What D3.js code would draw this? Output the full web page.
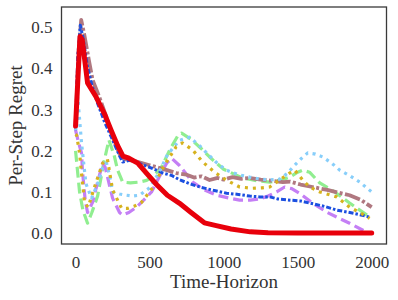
<!DOCTYPE html>
<html><head><meta charset="utf-8">
<script src="https://cdn.jsdelivr.net/npm/d3@7"></script>
<style>body{margin:0;background:#fff}svg{display:block}</style>
</head><body><svg id="c" width="398" height="300"></svg>
<script>
const xTicks = [0, 500, 1000, 1500, 2000];
const yTicks = [0.0, 0.1, 0.2, 0.3, 0.4, 0.5];

const greenT = [0, 27, 50, 81, 110, 149, 190, 225, 260, 284, 318, 370, 432, 480, 520, 580, 640, 690, 716, 780, 850, 905, 1000, 1128, 1230, 1311, 1400, 1446, 1500, 1534, 1580, 1649, 1750, 1851, 1986];
const greenV = [0.20, 0.10, 0.055, 0.024, 0.05, 0.09, 0.17, 0.226, 0.19, 0.153, 0.124, 0.122, 0.124, 0.128, 0.136, 0.16, 0.205, 0.236, 0.243, 0.228, 0.205, 0.185, 0.155, 0.134, 0.127, 0.124, 0.13, 0.136, 0.148, 0.153, 0.148, 0.122, 0.10, 0.073, 0.039];

const purpleT = [0, 20, 40, 47, 65, 81, 115, 150, 183, 200, 230, 250, 297, 318, 360, 412, 460, 513, 570, 615, 649, 700, 791, 870, 953, 1040, 1108, 1180, 1243, 1300, 1358, 1412, 1460, 1520, 1600, 1700, 1780, 1851, 1966];
const purpleV = [0.25, 0.22, 0.195, 0.15, 0.08, 0.05, 0.075, 0.125, 0.17, 0.16, 0.115, 0.085, 0.05, 0.044, 0.05, 0.063, 0.08, 0.10, 0.14, 0.17, 0.182, 0.165, 0.124, 0.105, 0.092, 0.085, 0.08, 0.08, 0.083, 0.09, 0.10, 0.112, 0.108, 0.095, 0.073, 0.05, 0.036, 0.024, 0.002];

const mauveT = [0, 20, 38, 60, 90, 115, 145, 175, 210, 240, 270, 300, 330, 400, 500, 600, 680, 750, 800, 850, 905, 960, 1000, 1060, 1120, 1176, 1250, 1331, 1400, 1450, 1520, 1600, 1700, 1780, 1851, 1930, 2000];
const mauveV = [0.26, 0.44, 0.518, 0.48, 0.42, 0.372, 0.345, 0.316, 0.28, 0.245, 0.215, 0.19, 0.18, 0.175, 0.165, 0.155, 0.146, 0.142, 0.135, 0.138, 0.129, 0.134, 0.13, 0.136, 0.132, 0.134, 0.13, 0.127, 0.124, 0.125, 0.118, 0.112, 0.105, 0.098, 0.092, 0.08, 0.063];

const blueT = [0, 15, 32, 50, 80, 110, 149, 196, 243, 297, 318, 378, 440, 500, 590, 650, 700, 770, 840, 930, 1020, 1100, 1176, 1243, 1311, 1365, 1450, 1520, 1581, 1680, 1764, 1880, 1986];
const blueV = [0.25, 0.43, 0.505, 0.475, 0.405, 0.36, 0.315, 0.27, 0.232, 0.188, 0.173, 0.178, 0.168, 0.16, 0.146, 0.14, 0.13, 0.12, 0.112, 0.104, 0.097, 0.094, 0.09, 0.088, 0.088, 0.083, 0.08, 0.078, 0.073, 0.065, 0.056, 0.048, 0.039];

const lightBlueT = [0, 15, 40, 70, 108, 150, 183, 209, 230, 250, 297, 344, 385, 432, 500, 560, 620, 700, 770, 830, 885, 950, 1018, 1100, 1176, 1250, 1311, 1378, 1430, 1480, 1527, 1568, 1620, 1669, 1730, 1784, 1850, 1919, 2000];
const lightBlueV = [0.25, 0.33, 0.22, 0.12, 0.085, 0.12, 0.158, 0.17, 0.14, 0.10, 0.095, 0.092, 0.09, 0.092, 0.11, 0.145, 0.19, 0.225, 0.233, 0.215, 0.195, 0.172, 0.153, 0.142, 0.136, 0.131, 0.129, 0.131, 0.145, 0.165, 0.182, 0.195, 0.192, 0.185, 0.17, 0.153, 0.14, 0.124, 0.10];

const goldT = [0, 7, 27, 40, 61, 85, 128, 183, 215, 250, 311, 351, 400, 446, 520, 600, 680, 723, 791, 858, 939, 1018, 1108, 1196, 1260, 1311, 1378, 1446, 1480, 1534, 1581, 1650, 1764, 1851, 1920, 1986];
const goldV = [0.24, 0.238, 0.195, 0.146, 0.073, 0.063, 0.112, 0.17, 0.18, 0.105, 0.06, 0.06, 0.066, 0.075, 0.11, 0.165, 0.21, 0.219, 0.202, 0.173, 0.148, 0.129, 0.112, 0.109, 0.11, 0.112, 0.129, 0.146, 0.153, 0.129, 0.112, 0.10, 0.088, 0.063, 0.05, 0.036];

const redT = [0, 30, 45, 81, 140, 195, 240, 285, 320, 360, 420, 480, 550, 620, 700, 780, 870, 950, 1050, 1180, 1300, 1500, 2000];
const redV = [0.26, 0.478, 0.47, 0.365, 0.33, 0.29, 0.25, 0.212, 0.187, 0.182, 0.17, 0.145, 0.117, 0.092, 0.073, 0.05, 0.025, 0.018, 0.01, 0.003, 0.001, 0.0, 0.0];

const series = [
  {t: greenT, v: greenV, color: "#90ee90", w: 3.2, dash: "11,5", cap: "butt"},
  {t: purpleT, v: purpleV, color: "#c47ff5", w: 3.2, dash: "10,5", cap: "butt"},
  {t: mauveT, v: mauveV, color: "#b07880", w: 3.8, dash: "16,2.5,3,2.5", cap: "butt"},
  {t: blueT, v: blueV, color: "#1b4fe0", w: 3, dash: "5,2,2.5,2", cap: "butt"},
  {t: lightBlueT, v: lightBlueV, color: "#87cefa", w: 3.2, dash: "3,4.5", cap: "butt"},
  {t: goldT, v: goldV, color: "#d6b21e", w: 3.2, dash: "3,5", cap: "butt"},
  {t: redT, v: redV, color: "#e8000b", w: 5, dash: null, cap: "round"}
];

const svg = d3.select("#c");
const x = d3.scaleLinear().domain([-95, 2100]).range([61.5, 386.5]);
const y = d3.scaleLinear().domain([-0.0265, 0.5495]).range([244, 7]);

const font = "'Liberation Serif', 'DejaVu Serif', serif";

const g = svg.append("g");
const line = d3.line().x(d => x(d[0])).y(d => y(d[1]));
series.forEach(s => {
  const pts = s.t.map((t, i) => [t, s.v[i]]);
  g.append("path").attr("d", line(pts)).attr("fill", "none")
    .attr("stroke", s.color).attr("stroke-width", s.w)
    .attr("stroke-dasharray", s.dash).attr("stroke-linecap", s.cap)
    .attr("stroke-linejoin", "round");
});

// frame
svg.append("rect").attr("x", 61.5).attr("y", 7).attr("width", 325).attr("height", 237)
  .attr("fill", "none").attr("stroke", "#3a3a3a").attr("stroke-width", 1.3);

const xAxis = svg.append("g").attr("transform", "translate(0,244)")
  .call(d3.axisBottom(x).tickValues(xTicks).tickSize(0).tickPadding(12).tickFormat(d3.format("d")));
xAxis.select(".domain").remove();
xAxis.selectAll("text").attr("font-family", font).attr("font-size", 17).attr("fill", "#333");

const yAxis = svg.append("g").attr("transform", "translate(61.5,0)")
  .call(d3.axisLeft(y).tickValues(yTicks).tickSize(0).tickPadding(9).tickFormat(d3.format(".1f")));
yAxis.select(".domain").remove();
yAxis.selectAll("text").attr("font-family", font).attr("font-size", 17).attr("fill", "#333");

svg.append("text").attr("x", 224).attr("y", 288).attr("text-anchor", "middle")
  .attr("font-family", font).attr("font-size", 19).attr("fill", "#333").text("Time-Horizon");
svg.append("text").attr("transform", "translate(22,125.5) rotate(-90)").attr("text-anchor", "middle")
  .attr("font-family", font).attr("font-size", 19).attr("fill", "#333").text("Per-Step Regret");
</script></body></html>
